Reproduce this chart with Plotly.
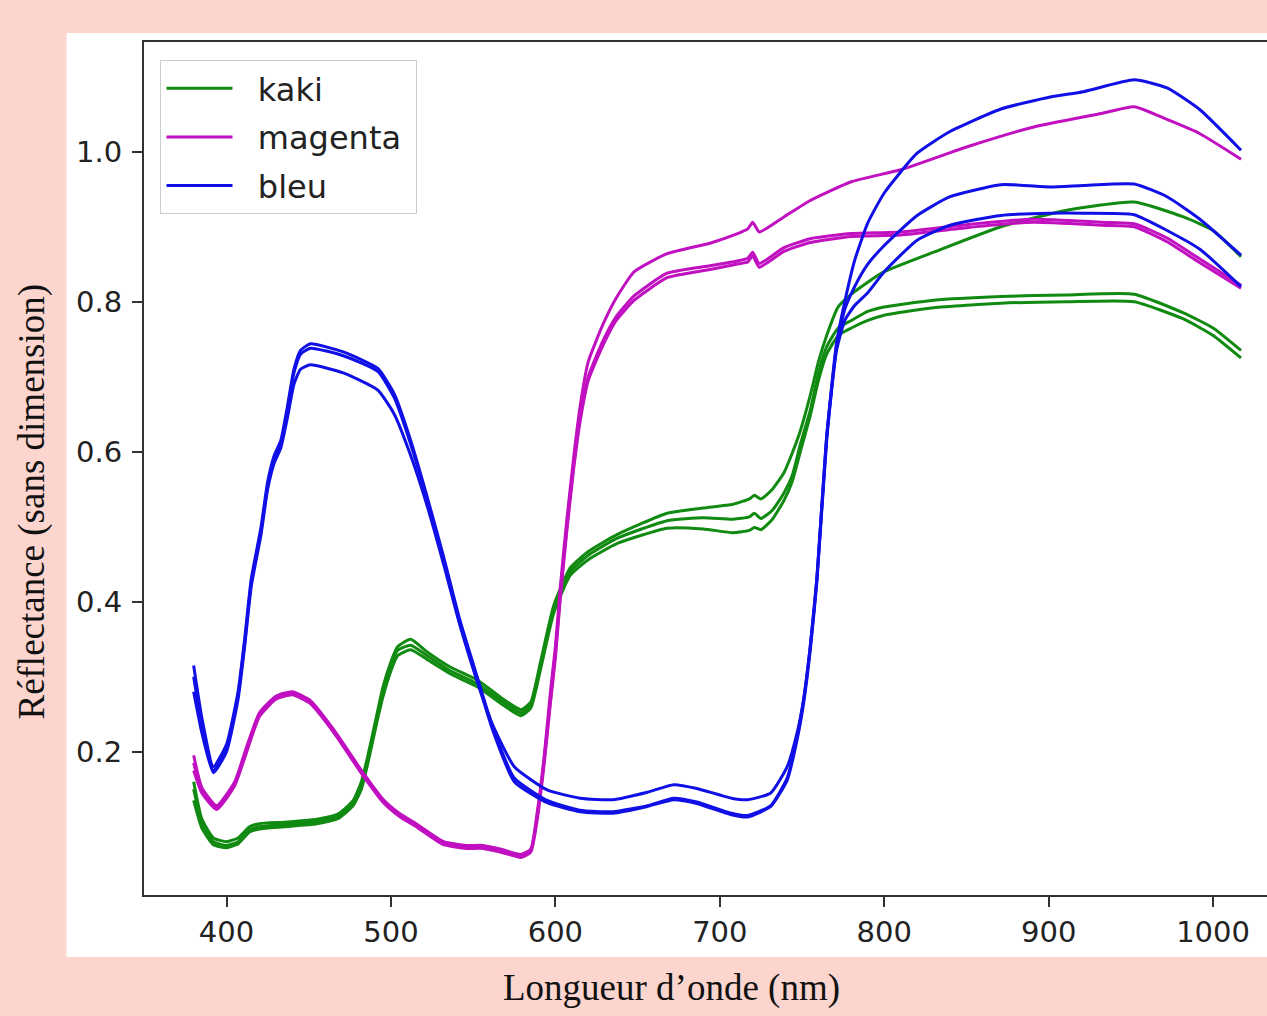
import plotly.graph_objects as go

# ---------------- data ----------------
wl_bleu = [380, 385, 392, 400, 407, 411, 415, 421, 425, 429,
           433, 437, 441, 445, 451, 471, 492, 502, 512, 522,
           532, 542, 553, 562, 575, 595, 615, 635, 656, 672,
           686, 707, 717, 731, 741, 747, 751, 755, 759, 765,
           771, 776, 782, 790, 800, 820, 840, 871, 901, 921,
           952, 972, 992, 1017]
bleu_1 = [0.315, 0.245, 0.18, 0.21, 0.28, 0.35, 0.43, 0.50, 0.56, 0.595,
          0.615, 0.66, 0.71, 0.735, 0.744, 0.733, 0.711, 0.677, 0.615, 0.54,
          0.46, 0.375, 0.296, 0.232, 0.165, 0.135, 0.122, 0.12, 0.128, 0.138,
          0.133, 0.118, 0.115, 0.128, 0.165, 0.22, 0.27, 0.34, 0.43, 0.62,
          0.745, 0.80, 0.855, 0.905, 0.945, 0.998, 1.027, 1.057, 1.073, 1.08,
          1.096, 1.085, 1.056, 1.002]
bleu_2 = [0.30, 0.235, 0.175, 0.205, 0.275, 0.345, 0.425, 0.495, 0.555, 0.59,
          0.61, 0.655, 0.705, 0.73, 0.738, 0.728, 0.707, 0.672, 0.61, 0.536,
          0.456, 0.37, 0.292, 0.228, 0.16, 0.132, 0.12, 0.118, 0.127, 0.136,
          0.131, 0.116, 0.113, 0.127, 0.162, 0.216, 0.265, 0.335, 0.425, 0.615,
          0.74, 0.79, 0.82, 0.85, 0.875, 0.915, 0.94, 0.956, 0.953, 0.955,
          0.957, 0.94, 0.91, 0.862]
bleu_3 = [0.28, 0.225, 0.172, 0.20, 0.27, 0.34, 0.42, 0.49, 0.55, 0.585,
          0.605, 0.645, 0.69, 0.71, 0.716, 0.705, 0.682, 0.65, 0.595, 0.528,
          0.45, 0.368, 0.29, 0.235, 0.18, 0.149, 0.138, 0.136, 0.146, 0.156,
          0.151, 0.138, 0.136, 0.145, 0.18, 0.225, 0.27, 0.34, 0.43, 0.62,
          0.735, 0.775, 0.795, 0.812, 0.84, 0.882, 0.902, 0.915, 0.918, 0.918,
          0.916, 0.895, 0.87, 0.82]

wl_magenta = [380, 385, 394, 405, 412, 420, 430, 440, 451, 465,
              483, 495, 505, 516, 532, 546, 556, 567, 579, 585,
              589, 593, 597, 600, 603, 607, 611, 615, 620, 629,
              637, 648, 668, 694, 710, 717, 720, 724, 739, 755,
              780, 810, 851, 891, 932, 952, 972, 992, 1017]
magenta_1 = [0.195, 0.152, 0.128, 0.16, 0.205, 0.252, 0.274, 0.28, 0.268, 0.23,
             0.172, 0.137, 0.118, 0.103, 0.08, 0.075, 0.075, 0.07, 0.063, 0.07,
             0.12, 0.19, 0.28, 0.34, 0.42, 0.51, 0.59, 0.66, 0.72, 0.77,
             0.805, 0.84, 0.864, 0.878, 0.89, 0.897, 0.906, 0.893, 0.913, 0.935,
             0.96, 0.976, 1.007, 1.033, 1.051, 1.06, 1.043, 1.024, 0.99]
magenta_2 = [0.185, 0.148, 0.125, 0.158, 0.2, 0.25, 0.272, 0.278, 0.266, 0.228,
             0.17, 0.135, 0.116, 0.101, 0.078, 0.073, 0.073, 0.068, 0.061, 0.068,
             0.115, 0.185, 0.27, 0.33, 0.41, 0.50, 0.58, 0.645, 0.70, 0.748,
             0.78, 0.808, 0.838, 0.848, 0.854, 0.858, 0.866, 0.851, 0.872, 0.884,
             0.891, 0.893, 0.903, 0.91, 0.906, 0.904, 0.885, 0.857, 0.822]
magenta_3 = [0.175, 0.145, 0.123, 0.155, 0.198, 0.247, 0.27, 0.276, 0.264, 0.226,
             0.168, 0.133, 0.114, 0.099, 0.076, 0.071, 0.071, 0.066, 0.059, 0.066,
             0.11, 0.18, 0.265, 0.325, 0.405, 0.495, 0.575, 0.64, 0.695, 0.742,
             0.775, 0.802, 0.832, 0.843, 0.85, 0.853, 0.861, 0.846, 0.867, 0.879,
             0.887, 0.889, 0.899, 0.906, 0.902, 0.9, 0.88, 0.852, 0.818]

wl_kaki = [380, 385, 392, 400, 407, 414, 420, 435, 455, 468,
           477, 482, 486, 491, 495, 500, 504, 512, 522, 536,
           553, 567, 579, 585, 591, 599, 609, 620, 638, 668,
           690, 708, 718, 721, 725, 732, 739, 744, 749, 755,
           760, 765, 772, 780, 790, 800, 830, 871, 911, 952,
           982, 1000, 1017]
kaki_1 = [0.16, 0.11, 0.085, 0.08, 0.085, 0.1, 0.104, 0.106, 0.11, 0.117,
          0.135, 0.16, 0.195, 0.245, 0.285, 0.32, 0.34, 0.35, 0.333, 0.313,
          0.295, 0.272, 0.256, 0.266, 0.32, 0.395, 0.445, 0.467, 0.49, 0.518,
          0.525, 0.53, 0.537, 0.542, 0.537, 0.55, 0.572, 0.598, 0.628, 0.675,
          0.72, 0.755, 0.793, 0.81, 0.826, 0.84, 0.866, 0.9, 0.922, 0.933,
          0.913, 0.895, 0.86]
kaki_2 = [0.15, 0.105, 0.08, 0.075, 0.08, 0.096, 0.1, 0.103, 0.107, 0.114,
          0.132, 0.155, 0.19, 0.24, 0.28, 0.315, 0.335, 0.342, 0.328, 0.308,
          0.29, 0.268, 0.252, 0.262, 0.316, 0.39, 0.44, 0.462, 0.485, 0.508,
          0.512, 0.51, 0.513, 0.518, 0.511, 0.522, 0.545, 0.568, 0.61, 0.655,
          0.705, 0.74, 0.765, 0.775, 0.787, 0.793, 0.802, 0.807, 0.809, 0.81,
          0.785, 0.765, 0.735]
kaki_3 = [0.135, 0.098, 0.076, 0.072, 0.077, 0.093, 0.097, 0.1, 0.104, 0.111,
          0.128, 0.15, 0.185, 0.235, 0.272, 0.308, 0.328, 0.336, 0.323, 0.304,
          0.286, 0.264, 0.248, 0.258, 0.31, 0.385, 0.435, 0.456, 0.478, 0.498,
          0.497, 0.492, 0.495, 0.499, 0.496, 0.51, 0.535, 0.56, 0.60, 0.648,
          0.695, 0.73, 0.755, 0.765, 0.775, 0.782, 0.792, 0.798, 0.8, 0.8,
          0.777, 0.755, 0.725]

x_ticks = [400, 500, 600, 700, 800, 900, 1000]
y_ticks = [0.2, 0.4, 0.6, 0.8, 1.0]
y_tick_labels = ["0.2", "0.4", "0.6", "0.8", "1.0"]

# ---------------- figure ----------------
series = [
    ("kaki", "#118a11", wl_kaki, [kaki_1, kaki_2, kaki_3]),
    ("magenta", "#c010c0", wl_magenta, [magenta_1, magenta_2, magenta_3]),
    ("bleu", "#1010e6", wl_bleu, [bleu_1, bleu_2, bleu_3]),
]

NB = "\u00a0"
fig = go.Figure()
for name, color, wl, curves in series:
    for i, ys in enumerate(curves):
        fig.add_trace(go.Scatter(
            x=wl, y=ys, mode="lines", name=NB * 2 + name + NB,
            legendgroup=name, showlegend=(i == 0),
            line=dict(color=color, width=3, shape="spline", smoothing=0.5),
        ))

W, H = 1267, 1016
L, T, B, R = 143.5, 42, 895, 1267
pw, ph = R - L, B - T

def px(xp):
    return (xp - L) / pw

def py(yp):
    return (B - yp) / ph

tick_font = dict(family="DejaVu Sans", size=29, color="#222222")
serif = dict(family="Liberation Serif, Times New Roman, serif", size=37, color="#111111")

fig.update_layout(
    width=W, height=H,
    margin=dict(l=L, r=W - R, t=T, b=H - B, pad=0),
    paper_bgcolor="#fcd5ce",
    plot_bgcolor="white",
    showlegend=True,
    legend=dict(
        x=px(160), y=py(60), xanchor="left", yanchor="top",
        bgcolor="rgba(255,255,255,0.85)", bordercolor="#cccccc", borderwidth=1,
        font=dict(family="DejaVu Sans", size=32, color="#222222"),
        itemwidth=66, tracegroupgap=4, traceorder="grouped",
    ),
    shapes=[dict(
        type="rect", xref="paper", yref="paper",
        x0=px(66), x1=1.0, y0=py(957), y1=py(33),
        fillcolor="white", line=dict(width=0), layer="below",
    )],
    annotations=[
        dict(text="Longueur d’onde (nm)", xref="paper", yref="paper",
             x=px(671), y=py(988), xanchor="center", yanchor="middle",
             showarrow=False, font=serif),
        dict(text="Réflectance (sans dimension)", xref="paper", yref="paper",
             x=px(31), y=py(502), xanchor="center", yanchor="middle",
             textangle=-90, showarrow=False, font=serif),
    ],
)

fig.update_xaxes(
    range=[349.8, 1032.8], tickvals=x_ticks, ticks="outside", ticklen=10,
    tickwidth=1.5, tickcolor="#333333", showline=True, linecolor="#333333",
    linewidth=2, mirror=True, showgrid=False, zeroline=False,
    tickfont=tick_font, ticklabelstandoff=0,
)
fig.update_yaxes(
    range=[0.0089, 1.1463], tickvals=y_ticks, ticktext=y_tick_labels,
    ticks="outside", ticklen=10, tickwidth=1.5, tickcolor="#333333",
    showline=True, linecolor="#333333", linewidth=2, mirror=False,
    showgrid=False, zeroline=False, tickfont=tick_font, ticklabelstandoff=4,
)

fig.write_html(
    "out.html",
    config={"displayModeBar": False},
    post_script="document.body.style.margin='0';document.body.style.overflow='hidden';",
)
